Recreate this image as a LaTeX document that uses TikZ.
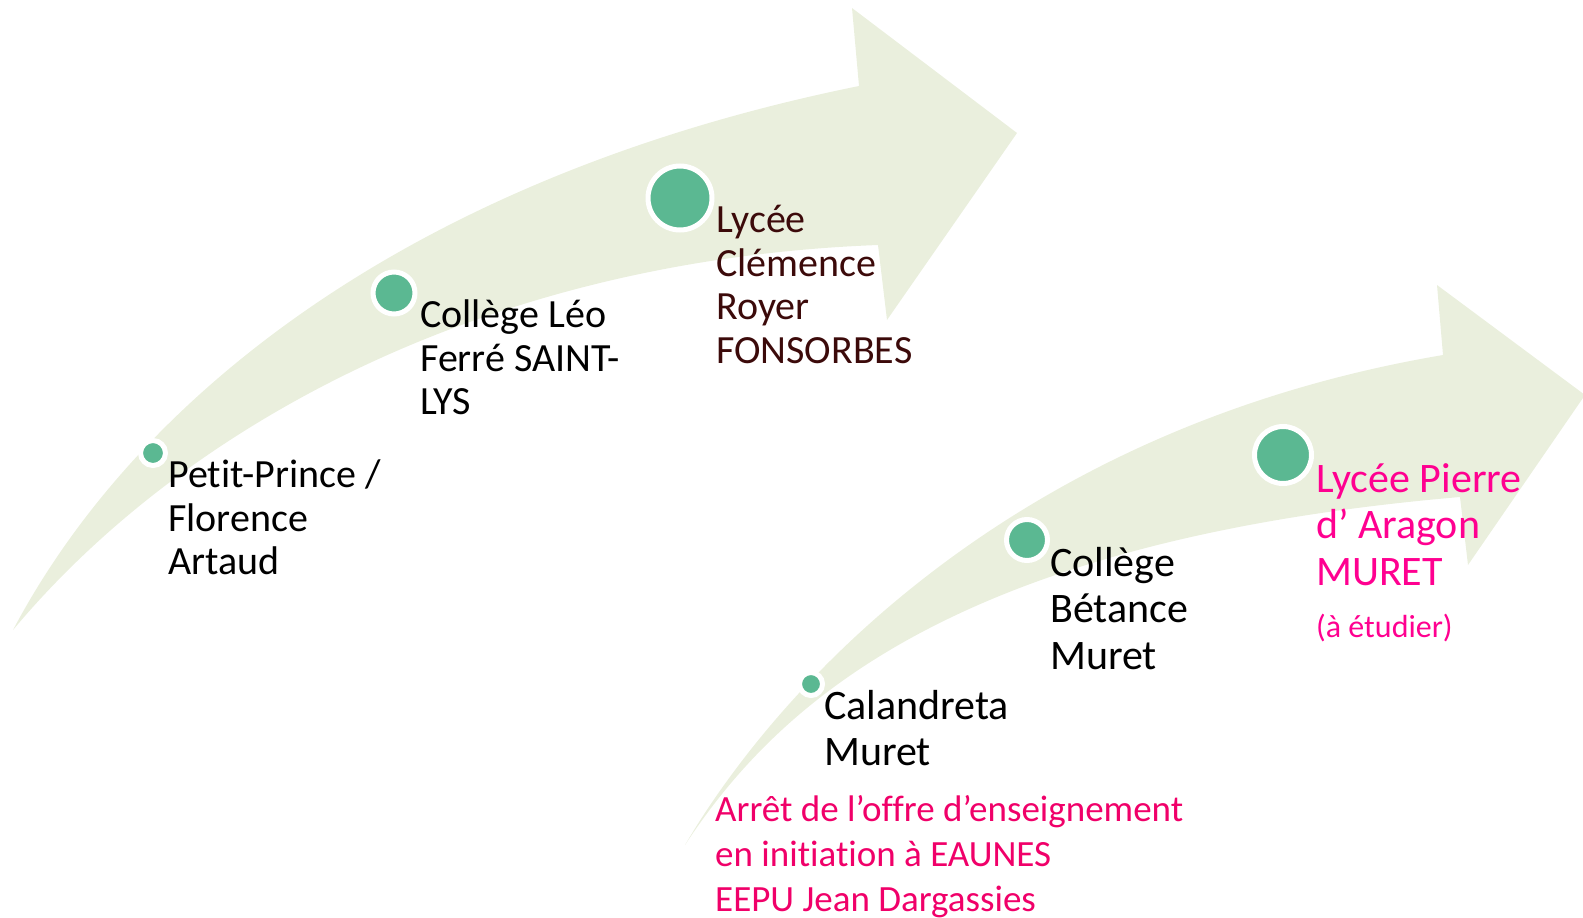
\documentclass[tikz,border=0pt]{standalone}
\usepackage{fontspec}
\setmainfont{Carlito}[Ligatures=NoCommon]
\usepackage{xcolor}
\definecolor{bandgreen}{RGB}{234,239,221}
\definecolor{dotgreen}{RGB}{91,184,146}
\definecolor{darkbrown}{RGB}{60,10,10}
\definecolor{magentatext}{RGB}{255,0,144}
\definecolor{redtext}{RGB}{240,0,105}

\begin{document}
\begin{tikzpicture}[x=1pt, y=-1pt,
	stop/.style={circle, fill=dotgreen, draw=white, line width=5pt, inner sep=0pt},
	lbl/.style={anchor=north west, inner sep=0pt, align=left, font=\fontsize{40}{43.5}\selectfont},
	lblb/.style={anchor=north west, inner sep=0pt, align=left, font=\fontsize{42}{46.5}\selectfont}]
	\useasboundingbox (0,0) rectangle (1583,918);
	% upper arrow
	\fill[bandgreen] (13,630) .. controls (140,390) and (420,175) .. (859,86)
		-- (852,8) -- (1017,133) -- (887,320) -- (878,245)
		.. controls (480,260) and (180,430) .. (13,630) -- cycle;
	% lower arrow
	\fill[bandgreen] (685,845) .. controls (770,700) and (1000,430) .. (1443,355)
		-- (1437,285) -- (1585,395) -- (1468,565) -- (1460,497)
		.. controls (960,540) and (780,700) .. (685,845) -- cycle;
	% stops
	\node[stop, minimum size=25pt] (pp) at (153,453) {};
	\node[stop, minimum size=42pt] (leo) at (394,293) {};
	\node[stop, minimum size=64pt] (clem) at (680,198) {};
	\node[stop, minimum size=23pt] (cal) at (811,684) {};
	\node[stop, minimum size=41pt] (bet) at (1027,540) {};
	\node[stop, minimum size=57pt] (arag) at (1283,455) {};
	% labels
	\node[lbl] (tpp) at (168,460) {Petit-Prince /\\Florence\\Artaud};
	\node[lbl] (tleo) at (420,300) {Collège Léo\\Ferré SAINT-\\LYS};
	\node[lbl, text=darkbrown] (tclem) at (716,205) {Lycée\\Clémence\\Royer\\FONSORBES};
	\node[lblb] (tcal) at (824,690) {Calandreta\\Muret};
	\node[lblb] (tbet) at (1050,547) {Collège\\Bétance\\Muret};
	\node[lblb, text=magentatext] (tarag) at (1316,463) {Lycée Pierre\\d’ Aragon\\MURET};
	\node[anchor=north west, inner sep=0pt, text=magentatext, font=\fontsize{32}{36}\selectfont] (tetud) at (1316,614) {(à étudier)};
	\node[lbl, text=redtext, font=\fontsize{37}{45}\selectfont] (tarret) at (715,795) {Arrêt de l’offre d’enseignement\\en initiation à EAUNES\\EEPU Jean Dargassies};
\end{tikzpicture}
\end{document}
